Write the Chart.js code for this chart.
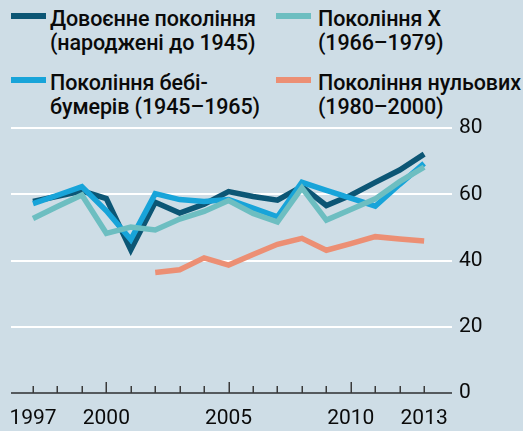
<!DOCTYPE html>
<html lang="uk">
<head>
<meta charset="utf-8">
<script src="https://cdn.jsdelivr.net/npm/chart.js@4.4.1/dist/chart.umd.min.js"></script>
<style>
  html, body { margin: 0; padding: 0; }
  body { width: 523px; height: 431px; background: #cedde6; position: relative; overflow: hidden; font-family: Roboto, 'Liberation Sans', sans-serif; }
  #wrap { position: absolute; left: 0; top: 0; width: 523px; height: 431px; }
  .leg { position: absolute; font-size: 21.5px; line-height: 24px; letter-spacing: -0.1px; font-weight: 500; color: #0a0a0a; white-space: nowrap; }
  .sw { position: absolute; width: 35px; height: 6px; }
</style>
</head>
<body>
<div id="legend"></div>
<div id="wrap"><canvas id="chart" width="523" height="431"></canvas></div>
<script>
// ----- data -----
const years = [1997, 1998, 1999, 2000, 2001, 2002, 2003, 2004, 2005, 2006, 2007, 2008, 2009, 2010, 2011, 2012, 2013];
const xLabelYears = [1997, 2000, 2005, 2010, 2013];
const majorYears = [2000, 2005, 2010];
const yTicks = [0, 20, 40, 60, 80];

const prewar      = [57.8, 59.4, 61.0, 58.7, 43.2, 57.6, 54.3, 57.0, 60.8, 59.3, 58.2, 62.3, 56.6, 59.7, 63.6, 67.3, 72.1];
const boomers     = [57.2, 59.7, 62.3, 55.0, 46.3, 60.2, 58.4, 57.8, 58.4, 55.8, 53.2, 63.6, 61.2, 58.8, 56.4, 63.0, 69.3];
const genX        = [52.7, 56.3, 59.8, 48.2, 50.1, 49.2, 52.5, 54.8, 58.1, 54.2, 51.6, 61.9, 52.2, 55.4, 58.6, 63.8, 68.2];
const millennials = [null, null, null, null, null, 36.4, 37.2, 40.8, 38.6, 41.8, 44.9, 46.7, 43.1, 45.1, 47.2, 46.5, 45.9];

const seriesNames = [
    ['Довоєнне покоління', '(народжені до 1945)'],
    ['Покоління бебі-', 'бумерів (1945–1965)'],
    ['Покоління X', '(1966–1979)'],
    ['Покоління нульових', '(1980–2000)']
];
const seriesColors = ['#0c5675', '#18a4d9', '#6dbec1', '#ec8f74'];

// legend (two columns, two rows)
const legendSlots = [
    { sx: 11, tx: 50, top: 7 },
    { sx: 11, tx: 50, top: 71 },
    { sx: 276, tx: 318, top: 7 },
    { sx: 276, tx: 318, top: 71 }
];
const legendEl = document.getElementById('legend');
seriesNames.forEach((lines, i) => {
    const s = legendSlots[i];
    const sw = document.createElement('div');
    sw.className = 'sw';
    sw.style.left = s.sx + 'px';
    sw.style.top = (s.top + 6) + 'px';
    sw.style.background = seriesColors[i];
    legendEl.appendChild(sw);
    const t = document.createElement('div');
    t.className = 'leg';
    t.style.left = s.tx + 'px';
    t.style.top = s.top + 'px';
    t.innerHTML = lines.join('<br>');
    legendEl.appendChild(t);
});

const toPoints = arr => arr.map((v, i) => ({ x: years[i], y: v }));
const allSeries = [prewar, boomers, genX, millennials];
const drawOrder = [2, 1, 0, 3];

const xTickMarks = {
    id: 'xTickMarks',
    afterDraw(chart) {
        const { ctx, chartArea, scales: { x } } = chart;
        ctx.save();
        ctx.strokeStyle = '#3a3a3a';
        ctx.lineWidth = 1.5;
        years.forEach(yr => {
            const px = Math.round(x.getPixelForValue(yr)) + 0.25;
            const len = majorYears.includes(yr) ? 11 : 7;
            ctx.beginPath();
            ctx.moveTo(px, chartArea.bottom);
            ctx.lineTo(px, chartArea.bottom - len);
            ctx.stroke();
        });
        ctx.restore();
    }
};

new Chart(document.getElementById('chart'), {
    type: 'line',
    data: {
        datasets: allSeries.map((arr, i) => ({
            label: seriesNames[i].join(' '),
            data: toPoints(arr),
            borderColor: seriesColors[i],
            borderWidth: 5.5,
            borderJoinStyle: 'miter',
            borderCapStyle: 'butt',
            pointRadius: 0,
            tension: 0,
            fill: false,
            order: drawOrder[i]
        }))
    },
    options: {
        responsive: false,
        animation: false,
        events: [],
        layout: { padding: { left: 11, top: 128, right: 0, bottom: 0 } },
        plugins: { legend: { display: false }, tooltip: { enabled: false } },
        scales: {
            x: {
                type: 'linear',
                min: 1996.1,
                max: 2014.14,
                afterBuildTicks: scale => { scale.ticks = years.map(v => ({ value: v })); },
                afterFit: scale => {
                    scale.height = 38;
                    scale.paddingLeft = 0;
                    scale.paddingRight = 0;
                },
                grid: { display: false, drawTicks: false },
                border: { display: false },
                ticks: {
                    autoSkip: false,
                    maxRotation: 0,
                    padding: 13,
                    color: '#0a0a0a',
                    font: { family: 'Roboto', size: 21 },
                    callback: v => xLabelYears.includes(v) ? String(v) : ''
                }
            },
            y: {
                position: 'right',
                min: 0,
                max: 80,
                afterBuildTicks: scale => { scale.ticks = yTicks.map(v => ({ value: v })); },
                afterFit: scale => { scale.width = 71; },
                grid: {
                    drawTicks: false,
                    color: ctx => ctx.tick && ctx.tick.value === 0 ? '#555a5e' : '#ffffff',
                    lineWidth: 2
                },
                border: { display: false },
                ticks: {
                    padding: 7,
                    color: '#0a0a0a',
                    font: { family: 'Roboto', size: 21 }
                }
            }
        }
    },
    plugins: [xTickMarks]
});
</script>
</body>
</html>
